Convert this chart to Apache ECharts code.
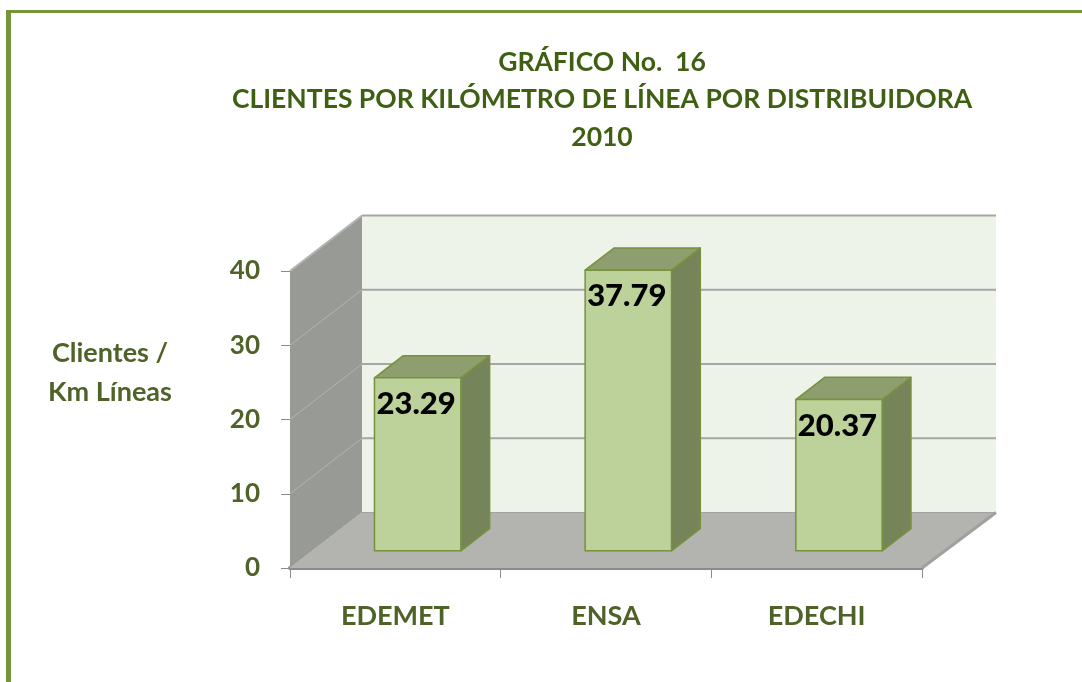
<!DOCTYPE html>
<html>
<head>
<meta charset="utf-8">
<style>
  html, body { margin: 0; padding: 0; background: #fff; }
  #chart { width: 1082px; height: 682px; }
</style>
<script src="https://cdn.jsdelivr.net/npm/echarts@6/dist/echarts.min.js"></script>
</head>
<body>
<div id="chart"></div>
<script>
const categories = ['EDEMET', 'ENSA', 'EDECHI'];
const values = [23.29, 37.79, 20.37];
const yTicks = [0, 10, 20, 30, 40];
const titleLines = ['GRÁFICO No.  16', 'CLIENTES POR KILÓMETRO DE LÍNEA POR DISTRIBUIDORA', '2010'];
const yTitle = ['Clientes /', 'Km Líneas'];

const FONT = 'Lato, "Open Sans", sans-serif';
const GREEN = '#4F6228';
// depth vector of the 3d box, in pixels
const DX = 72, DY = -55.5;
const BAR_FRONT = 0.31, BAR_DEPTH = 0.4, BAR_WIDTH = 0.41;

const chart = echarts.init(document.getElementById('chart'), null, { renderer: 'canvas' });

function renderWalls(params, api) {
    const cs = params.coordSys;
    const x0 = cs.x, x1 = cs.x + cs.width;
    const y0 = api.coord([0, yTicks[0]])[1];
    const yTop = api.coord([0, yTicks[yTicks.length - 1]])[1];
    const children = [];
    // left wall
    children.push({
        type: 'polygon',
        shape: { points: [[x0, yTop], [x0 + DX, yTop + DY], [x0 + DX, y0 + DY], [x0, y0]] },
        style: { fill: '#989A96' },
    });
    // back wall
    children.push({
        type: 'rect',
        shape: { x: x0 + DX, y: yTop + DY, width: x1 - x0 + 2, height: y0 - yTop },
        style: { fill: '#EEF3EA' },
    });
    yTicks.forEach((t) => {
        const y = api.coord([0, t])[1];
        if (t !== yTicks[0]) {
            children.push({
                type: 'line',
                shape: { x1: x0 + DX, y1: y + DY, x2: x1 + DX + 2, y2: y + DY },
                style: { stroke: '#A6A6A6', lineWidth: 2 },
            });
        }
        children.push({
            type: 'line',
            shape: { x1: x0, y1: y, x2: x0 + DX, y2: y + DY },
            style: { stroke: '#B4B5B2', lineWidth: t === yTicks[yTicks.length - 1] ? 2 : 1 },
        });
    });
    // floor
    children.push({
        type: 'polygon',
        shape: { points: [[x0, y0], [x1, y0], [x1 + DX + 2, y0 + DY], [x0 + DX, y0 + DY]] },
        style: { fill: '#B3B4B0' },
    });
    children.push({
        type: 'line',
        shape: { x1: x0 + DX, y1: y0 + DY, x2: x1 + DX + 2, y2: y0 + DY },
        style: { stroke: '#A3A3A3', lineWidth: 1 },
    });
    children.push({
        type: 'line',
        shape: { x1: x1, y1: y0, x2: x1 + DX + 2, y2: y0 + DY },
        style: { stroke: '#A0A0A0', lineWidth: 3 },
    });
    return { type: 'group', children };
}

function renderBar(params, api) {
    const idx = api.value(0);
    const val = api.value(1);
    const base = api.coord([idx, 0]);
    const top = api.coord([idx, val]);
    const bw = api.size([1, 0])[0] * BAR_WIDTH;
    const fx = base[0] + BAR_FRONT * DX - bw / 2;
    const fyb = base[1] + BAR_FRONT * DY;
    const fyt = top[1] + BAR_FRONT * DY;
    const ddx = BAR_DEPTH * DX, ddy = BAR_DEPTH * DY;
    const edge = { stroke: '#76923C', lineWidth: 1.5, lineJoin: 'round' };
    return {
        type: 'group',
        children: [
            {
                type: 'polygon',
                shape: { points: [[fx + bw, fyt], [fx + bw + ddx, fyt + ddy], [fx + bw + ddx, fyb + ddy], [fx + bw, fyb]] },
                style: Object.assign({ fill: '#76845A' }, edge),
            },
            {
                type: 'polygon',
                shape: { points: [[fx, fyt], [fx + bw, fyt], [fx + bw + ddx, fyt + ddy], [fx + ddx, fyt + ddy]] },
                style: Object.assign({ fill: '#8E9E6E' }, edge),
            },
            {
                type: 'rect',
                shape: { x: fx, y: fyt, width: bw, height: fyb - fyt },
                style: Object.assign({ fill: '#BDD19A' }, edge),
            },
            {
                type: 'text',
                x: fx + 2,
                y: fyt + 26,
                style: {
                    text: val.toFixed(2),
                    fill: '#000',
                    font: '900 31px ' + FONT,
                    align: 'left',
                    verticalAlign: 'middle',
                },
            },
        ],
    };
}

const option = {
    backgroundColor: '#fff',
    animation: false,
    grid: { left: 290, top: 271, width: 632, height: 297 },
    xAxis: {
        type: 'category',
        data: categories,
        axisLine: { show: true, lineStyle: { color: '#8C8C8C', width: 4 } },
        axisTick: { show: true, length: 10, lineStyle: { color: '#8C8C8C', width: 1 } },
        axisLabel: { margin: 35, color: GREEN, fontSize: 27, fontWeight: 'bold', fontFamily: FONT },
        splitLine: { show: false },
    },
    yAxis: {
        type: 'value',
        min: 0,
        max: 40,
        interval: 10,
        axisLine: { show: true, lineStyle: { color: '#8C8C8C', width: 1 } },
        axisTick: { show: true, length: 9, lineStyle: { color: '#8C8C8C' } },
        axisLabel: { margin: 30, color: GREEN, fontSize: 26, fontWeight: 'bold', fontFamily: FONT },
        splitLine: { show: false },
    },
    graphic: [
        { type: 'rect', shape: { x: 6, y: 10, width: 1076, height: 3 }, style: { fill: '#77933C' } },
        { type: 'rect', shape: { x: 6, y: 10, width: 5, height: 672 }, style: { fill: '#77933C' } },
        {
            type: 'text',
            x: 602,
            y: 99.5,
            style: {
                text: titleLines.join('\n'),
                font: 'bold 26.5px ' + FONT,
                fill: '#3F5F12',
                align: 'center',
                verticalAlign: 'middle',
                lineHeight: 37.5,
            },
        },
        {
            type: 'text',
            x: 110,
            y: 372.5,
            style: {
                text: yTitle.join('\n'),
                font: 'bold 27px ' + FONT,
                fill: GREEN,
                align: 'center',
                verticalAlign: 'middle',
                lineHeight: 39,
            },
        },
    ],
    series: [
        {
            name: 'walls',
            type: 'custom',
            renderItem: renderWalls,
            data: [[0, 0]],
            z: 1,
            silent: true,
        },
        {
            name: 'Clientes / Km Líneas',
            type: 'custom',
            renderItem: renderBar,
            data: values.map((v, i) => [i, v]),
            z: 3,
        },
    ],
};

chart.setOption(option);
</script>
</body>
</html>
